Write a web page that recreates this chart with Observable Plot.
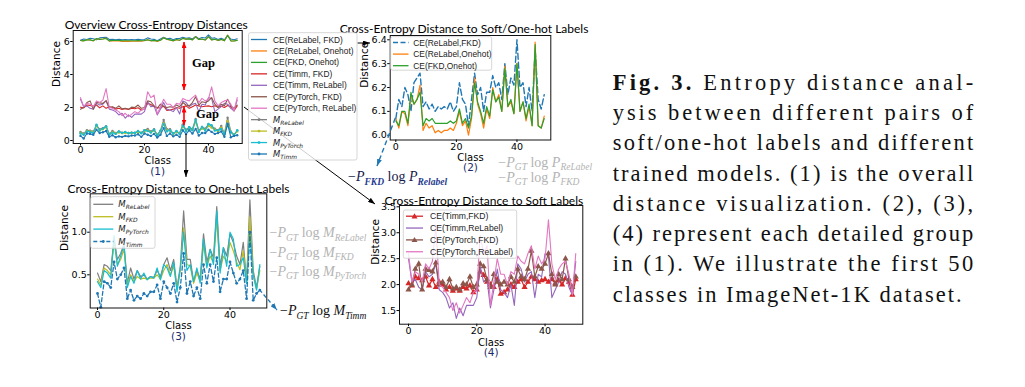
<!DOCTYPE html>
<html><head><meta charset="utf-8">
<script src="https://cdn.jsdelivr.net/npm/d3@7"></script>
<script src="https://cdn.jsdelivr.net/npm/@observablehq/plot@0.6"></script>
<style>
html,body{margin:0;padding:0;background:#fff;overflow:hidden;}
#wrap{position:relative;width:1025px;height:387px;overflow:hidden;}
#wrap svg{position:absolute;left:0;top:0;max-width:none;}
</style></head><body><div id="wrap"></div>
<script>
// ---------- data (first 50 ImageNet classes) ----------
const xTicks = [0, 20, 40];
// CE between soft / one-hot labels  (panel 2)
const ceReLabelFKD   = [6.07,6.15,6.12,6.20,6.17,6.10,6.22,6.24,6.26,6.12,6.14,6.11,6.13,6.10,6.12,6.11,6.12,6.11,6.14,6.10,6.12,6.22,6.15,6.13,6.04,6.15,6.26,6.17,6.20,6.10,6.18,6.18,6.25,6.20,6.22,6.15,6.30,6.17,6.24,6.21,6.40,6.20,6.22,6.12,6.20,6.10,6.36,6.15,6.11,6.17];
const ceReLabelOnehot= [6.07,6.03,6.10,6.09,6.04,6.17,6.13,6.15,6.21,6.02,6.05,6.03,6.04,6.01,6.02,6.01,6.02,6.02,6.03,6.02,6.05,6.10,6.04,6.06,6.00,6.07,6.24,6.13,6.09,6.03,6.11,6.07,6.20,6.14,6.17,6.10,6.29,6.12,6.14,6.09,6.30,6.10,6.14,6.06,6.12,6.04,6.39,6.04,6.03,6.08];
const ceFKDOnehot    = [6.06,6.04,6.10,6.10,6.05,6.18,6.13,6.15,6.18,6.04,6.07,6.06,6.07,6.05,6.05,6.05,6.05,6.05,6.06,6.05,6.06,6.11,6.05,6.07,6.03,6.08,6.22,6.14,6.10,6.05,6.12,6.08,6.19,6.14,6.16,6.10,6.28,6.12,6.15,6.09,6.30,6.10,6.14,6.07,6.13,6.04,6.38,6.04,6.03,6.07];
// CE of trained models to soft labels (panel 4)
const ceTimmFKD      = [2.02,1.98,2.15,2.12,2.08,2.15,1.98,2.10,1.95,2.05,2.00,1.90,1.95,1.88,1.92,1.88,1.95,1.92,1.98,1.85,1.90,2.25,2.18,2.05,2.00,1.95,2.10,1.82,1.85,1.90,2.00,1.95,2.05,2.10,1.95,2.05,2.15,2.10,2.05,2.08,2.10,2.05,2.10,2.02,2.08,2.00,2.12,2.05,1.80,2.10];
const ceTimmReLabel  = [2.50,2.05,2.10,1.95,1.90,2.25,2.15,2.20,2.40,1.90,1.85,1.75,1.55,1.65,1.35,1.55,1.40,1.60,1.60,1.60,1.75,2.35,2.05,2.10,1.55,1.90,2.30,1.90,1.85,1.75,2.00,1.60,2.40,2.30,2.05,2.20,2.25,1.75,2.20,2.15,2.60,2.55,1.75,1.90,2.05,2.25,2.20,1.95,1.80,2.45];
const cePyTorchFKD   = [1.90,2.00,2.30,2.40,1.90,2.30,2.28,2.25,2.42,2.00,2.05,1.95,2.10,1.92,1.95,1.90,2.02,2.00,2.15,1.95,2.00,2.40,2.35,2.10,1.95,2.20,2.05,2.00,2.05,2.00,2.15,2.05,2.30,2.15,2.10,2.30,2.65,2.15,2.35,2.30,2.40,2.60,2.20,2.00,2.20,2.10,2.50,2.10,1.95,2.15];
const cePyTorchReLabel=[2.60,2.05,2.25,2.20,2.05,2.40,2.30,2.45,3.15,2.00,1.95,1.85,1.75,1.50,1.65,1.45,1.60,1.75,1.65,1.85,1.90,2.95,2.60,2.75,1.60,2.05,2.50,2.20,2.20,2.00,2.25,2.20,2.55,2.45,2.40,2.60,2.75,2.30,2.55,2.40,2.50,3.25,2.40,2.10,2.30,2.40,2.45,2.20,1.80,2.60];
// CE of trained models to one-hot labels (panel 3)
const mReLabel = [0.52,0.42,0.62,0.60,0.55,0.92,0.68,0.75,0.86,0.40,0.58,0.45,0.55,0.48,0.50,0.45,0.48,0.47,0.55,0.48,0.62,0.70,0.55,0.68,0.35,0.60,1.25,0.68,0.68,0.42,0.55,0.45,0.98,0.65,0.80,0.70,1.30,0.60,0.82,0.72,0.98,0.88,0.72,0.62,0.88,0.42,1.38,0.55,0.35,0.60];
const mFKD     = [0.45,0.38,0.58,0.55,0.50,0.88,0.62,0.68,0.80,0.38,0.50,0.42,0.48,0.45,0.46,0.45,0.46,0.46,0.50,0.45,0.55,0.62,0.50,0.60,0.33,0.55,1.05,0.62,0.60,0.40,0.52,0.42,0.85,0.60,0.72,0.64,1.15,0.55,0.72,0.65,0.88,0.78,0.65,0.56,0.78,0.40,1.18,0.50,0.33,0.55];
const mPyTorch = [0.42,0.35,0.55,0.52,0.46,0.96,0.60,0.72,0.85,0.35,0.48,0.40,0.55,0.45,0.52,0.44,0.48,0.46,0.58,0.44,0.62,0.58,0.48,0.65,0.30,0.58,1.00,0.55,0.62,0.42,0.58,0.40,0.92,0.58,0.80,0.62,1.25,0.52,0.82,0.60,1.00,0.92,0.60,0.62,0.70,0.40,1.00,0.50,0.32,0.62];
const mTimm    = [0.28,0.12,0.42,0.40,0.35,0.65,0.45,0.50,0.58,0.22,0.32,0.20,0.25,0.22,0.28,0.25,0.30,0.30,0.38,0.22,0.42,0.35,0.28,0.40,0.18,0.35,0.75,0.28,0.42,0.25,0.35,0.22,0.62,0.40,0.62,0.42,0.70,0.30,0.45,0.45,0.65,0.52,0.40,0.45,0.55,0.22,1.00,0.20,0.28,0.32];

const C = {blue:"#1f77b4",orange:"#ff7f0e",green:"#2ca02c",red:"#d62728",purple:"#9467bd",brown:"#8c564b",pink:"#e377c2",grey:"#7f7f7f",olive:"#bcbd22",cyan:"#17becf"};

const W = 1025, H = 387;
const wrap = document.getElementById("wrap");

function panel(o) {
  const b = o.box;
  const plot = Plot.plot({
    width: W, height: H,
    marginLeft: b.l, marginRight: W - b.r, marginTop: b.t, marginBottom: H - b.b,
    x: {domain: o.xDomain},
    y: {domain: o.yDomain},
    style: {background: "none", overflow: "visible", fontFamily: "DejaVu Sans", fontSize: "9.5px", color: "#000"},
    marks: [
      Plot.axisX({ticks: xTicks, tickSize: 2.5, tickPadding: 0.5, label: null, fontSize: 9.5}),
      Plot.axisY({ticks: o.yTicks, tickFormat: o.yFormat, tickSize: 2.5, tickPadding: 1, label: null, fontSize: 9.5}),
      ...o.marks,
      Plot.frame({stroke: "#111", strokeWidth: 1}),
      Plot.text([o.title], {frameAnchor: "top", lineAnchor: "bottom", dx: o.titleDx, dy: o.titleDy, fontFamily: "Lato", fontSize: 12, fill: "#000"}),
      Plot.text(["Distance"], {frameAnchor: "left", dx: o.ylabDx, rotate: -90, fontSize: 10.5, fill: "#000"}),
      Plot.text(["Class"], {frameAnchor: "bottom", dy: o.classDy, fontSize: 10, fill: "#000"}),
      Plot.text([o.num], {frameAnchor: "bottom", dy: o.classDy + 10.5, fontSize: 10.5, fill: "#1c2b6b"})
    ]
  });
  wrap.appendChild(plot);
  return plot;
}
const line = (v, opt) => Plot.line(v, {x: (d, i) => i, y: d => d, ...opt});
const dots = (v, opt) => Plot.dot(v, {x: (d, i) => i, y: d => d, ...opt});

// ---------- panel (1): overview ----------
const p1 = panel({
  box: {l: 72.7, r: 241.7, t: 30, b: 143},
  xDomain: [-2.28, 50.56], yDomain: [-0.182, 6.667],
  yTicks: [0, 2, 4, 6], yFormat: d => String(d),
  title: "Overview Cross-Entropy Distances", titleDx: -1.5, titleDy: -2,
  ylabDx: -16.5, classDy: 20.5, num: "(1)",
  marks: [
    line(ceReLabelFKD, {stroke: C.blue, strokeWidth: 1.1}),
    line(ceReLabelOnehot, {stroke: C.orange, strokeWidth: 1.1}),
    line(ceFKDOnehot, {stroke: C.green, strokeWidth: 1.1}),
    line(ceTimmFKD, {stroke: C.red, strokeWidth: 1.1}),
    line(ceTimmReLabel, {stroke: C.purple, strokeWidth: 1.1}),
    line(cePyTorchFKD, {stroke: C.brown, strokeWidth: 1.1}),
    line(cePyTorchReLabel, {stroke: C.pink, strokeWidth: 1.1}),
    line(mReLabel, {stroke: C.grey, strokeWidth: 1.1}), dots(mReLabel, {fill: C.grey, r: 1.2}),
    line(mFKD, {stroke: C.olive, strokeWidth: 1.1}), dots(mFKD, {fill: C.olive, r: 1.2}),
    line(mPyTorch, {stroke: C.cyan, strokeWidth: 1.1}), dots(mPyTorch, {fill: C.cyan, r: 1.2}),
    line(mTimm, {stroke: C.blue, strokeWidth: 1.1}), dots(mTimm, {fill: C.blue, r: 1.2})
  ]
});

// ---------- panel (2) ----------
const p2 = panel({
  box: {l: 389.7, r: 550.3, t: 35, b: 139.5},
  xDomain: [-1.85, 51.17], yDomain: [5.980, 6.418],
  yTicks: [6.0, 6.1, 6.2, 6.3, 6.4], yFormat: d3.format(".1f"),
  title: "Cross-Entropy Distance to Soft/One-hot Labels", titleDx: -6.5, titleDy: -3,
  ylabDx: -26, classDy: 20.5, num: "(2)",
  marks: [
    line(ceReLabelFKD, {stroke: C.blue, strokeWidth: 1.4, strokeDasharray: "6,3"}),
    line(ceReLabelOnehot, {stroke: C.orange, strokeWidth: 1.2}),
    line(ceFKDOnehot, {stroke: C.green, strokeWidth: 1.2})
  ]
});

// ---------- panel (3) ----------
const p3 = panel({
  box: {l: 89.7, r: 266.3, t: 193.3, b: 307.5},
  xDomain: [-2.2, 51.1], yDomain: [0.110, 1.451],
  yTicks: [0.5, 1.0], yFormat: d3.format(".1f"),
  title: "Cross-Entropy Distance to One-hot Labels", titleDx: 0, titleDy: -1,
  ylabDx: -26, classDy: 21, num: "(3)",
  marks: [
    line(mReLabel, {stroke: C.grey, strokeWidth: 1.2}),
    line(mFKD, {stroke: C.olive, strokeWidth: 1.2}),
    line(mPyTorch, {stroke: C.cyan, strokeWidth: 1.2}),
    line(mTimm, {stroke: C.blue, strokeWidth: 1.3, strokeDasharray: "4,2.5"}),
    dots(mTimm, {fill: C.blue, r: 1.4})
  ]
});

// ---------- panel (4) ----------
const p4 = panel({
  box: {l: 399, r: 582.3, t: 205, b: 323.7},
  xDomain: [-2.64, 51.06], yDomain: [1.237, 3.525],
  yTicks: [1.5, 2.0, 2.5, 3.0, 3.5], yFormat: d3.format(".1f"),
  title: "Cross-Entropy Distance to Soft Labels", titleDx: -7.3, titleDy: -1,
  ylabDx: -24, classDy: 21.5, num: "(4)",
  marks: [
    line(ceTimmFKD, {stroke: C.red, strokeWidth: 1.2}), dots(ceTimmFKD, {fill: C.red, symbol: "triangle", r: 2.3}),
    line(ceTimmReLabel, {stroke: C.purple, strokeWidth: 1.1}),
    line(cePyTorchFKD, {stroke: C.brown, strokeWidth: 1.2}), dots(cePyTorchFKD, {fill: C.brown, symbol: "triangle", r: 2.3}),
    line(cePyTorchReLabel, {stroke: C.pink, strokeWidth: 1.1})
  ]
});

// ---------- overlay: connectors, legends, annotations, caption ----------
const svg = d3.select(wrap).append("svg").attr("width", W).attr("height", H)
  .style("font-family", "DejaVu Sans");
const defs = svg.append("defs");
function marker(id, color, w, h) {
  defs.append("marker").attr("id", id).attr("viewBox", `0 0 ${w} ${h}`)
    .attr("refX", w).attr("refY", h / 2).attr("markerWidth", w).attr("markerHeight", h)
    .attr("markerUnits", "userSpaceOnUse").attr("orient", "auto-start-reverse")
    .append("path").attr("d", `M0,0L${w},${h / 2}L0,${h}Z`).attr("fill", color);
}
marker("ak", "#000", 7, 5);
marker("ab", C.blue, 7, 5);
marker("ar", "#ff0000", 6, 5);

const seg = (x1, y1, x2, y2, color, w, dash, mk, mk0) => {
  const l = svg.append("line").attr("x1", x1).attr("y1", y1).attr("x2", x2).attr("y2", y2)
    .attr("stroke", color).attr("stroke-width", w);
  if (dash) l.attr("stroke-dasharray", dash);
  if (mk) l.attr("marker-end", `url(#${mk})`);
  if (mk0) l.attr("marker-start", `url(#${mk0})`);
};
// connectors
seg(357.5, 43, 370, 43, "#000", 1, null, "ak");
seg(186, 134, 186, 177, "#000", 1, null, "ak");
seg(244, 107, 375, 204, "#000", 1, null, "ak");
// dashed arrows continuing series to their formula labels
seg(p2.scale("x").apply(0), p2.scale("y").apply(ceReLabelFKD[0]), 377, 166, C.blue, 1.4, "5,3", "ab");
seg(p3.scale("x").apply(49), p3.scale("y").apply(mTimm[49]), 277, 310, C.blue, 1.3, "4,2.5", "ab");
// gap arrows
seg(184, 42, 184, 90, "#ff0000", 1.6, null, "ar", "ar");
seg(184, 106.5, 184, 125.5, "#ff0000", 1.6, null, "ar", "ar");
svg.append("text").attr("x", 192).attr("y", 66.5).attr("font-family", "Liberation Serif").attr("font-weight", "bold").attr("font-size", 12.5).text("Gap");
svg.append("text").attr("x", 196).attr("y", 118).attr("font-family", "Liberation Serif").attr("font-weight", "bold").attr("font-size", 12.5).text("Gap");

// legends
function legend(cfg) {
  const g = svg.append("g");
  g.append("rect").attr("x", cfg.x).attr("y", cfg.y).attr("width", cfg.w).attr("height", cfg.h)
    .attr("rx", 2).attr("fill", "#fff").attr("fill-opacity", 0.8).attr("stroke", "#cccccc").attr("stroke-width", 0.8);
  cfg.items.forEach((it, k) => {
    const y = cfg.y0 + k * cfg.dy;
    const l = g.append("line").attr("x1", cfg.s0).attr("x2", cfg.s1).attr("y1", y).attr("y2", y)
      .attr("stroke", it.color).attr("stroke-width", it.w || 1.3);
    if (it.dash) l.attr("stroke-dasharray", it.dash);
    const cx = (cfg.s0 + cfg.s1) / 2;
    if (it.mk === "dot") g.append("circle").attr("cx", cx).attr("cy", y).attr("r", 1.4).attr("fill", it.color);
    if (it.mk === "tri") g.append("path").attr("d", `M${cx},${y - 3}L${cx + 3},${y + 2.2}L${cx - 3},${y + 2.2}Z`).attr("fill", it.color);
    const t = g.append("text").attr("x", cfg.tx).attr("y", y + cfg.fs * 0.36).attr("fill", "#222");
    if (typeof it.label === "string") {
      t.attr("font-family", "Liberation Sans").attr("font-size", cfg.fs).text(it.label);
    } else {
      t.attr("font-family", "DejaVu Sans").attr("font-style", "italic");
      t.append("tspan").attr("font-size", cfg.fs).text(it.label[0]);
      t.append("tspan").attr("font-size", cfg.fs * 0.7).attr("dy", 2).text(it.label[1]);
    }
  });
}
legend({x: 248.5, y: 32.7, w: 108.5, h: 127.3, y0: 39.5, dy: 11.45, s0: 251, s1: 267, tx: 273, fs: 8.4, items: [
  {label: "CE(ReLabel, FKD)", color: C.blue},
  {label: "CE(ReLabel, Onehot)", color: C.orange},
  {label: "CE(FKD, Onehot)", color: C.green},
  {label: "CE(Timm, FKD)", color: C.red},
  {label: "CE(Timm, ReLabel)", color: C.purple},
  {label: "CE(PyTorch, FKD)", color: C.brown},
  {label: "CE(PyTorch, ReLabel)", color: C.pink},
  {label: ["M", "ReLabel"], color: C.grey, mk: "dot"},
  {label: ["M", "FKD"], color: C.olive, mk: "dot"},
  {label: ["M", "PyTorch"], color: C.cyan, mk: "dot"},
  {label: ["M", "Timm"], color: C.blue, mk: "dot"}
]});
legend({x: 390.7, y: 36.7, w: 101, h: 33.5, y0: 42.5, dy: 11.6, s0: 393, s1: 408.5, tx: 413.3, fs: 8.4, items: [
  {label: "CE(ReLabel,FKD)", color: C.blue, dash: "5,2.5", w: 1.4},
  {label: "CE(ReLabel,Onehot)", color: C.orange},
  {label: "CE(FKD,Onehot)", color: C.green}
]});
legend({x: 90.7, y: 196.7, w: 64.3, h: 51.6, y0: 204.3, dy: 12.4, s0: 93.3, s1: 113.3, tx: 118.3, fs: 8.5, items: [
  {label: ["M", "ReLabel"], color: C.grey},
  {label: ["M", "FKD"], color: C.olive},
  {label: ["M", "PyTorch"], color: C.cyan},
  {label: ["M", "Timm"], color: C.blue, dash: "4,2.5", mk: "dot"}
]});
legend({x: 403.3, y: 210, w: 113.4, h: 48.3, y0: 216.2, dy: 11.85, s0: 406, s1: 423, tx: 430, fs: 8.6, items: [
  {label: "CE(Timm,FKD)", color: C.red, mk: "tri"},
  {label: "CE(Timm,ReLabel)", color: C.purple},
  {label: "CE(PyTorch,FKD)", color: C.brown, mk: "tri"},
  {label: "CE(PyTorch,ReLabel)", color: C.pink}
]});

// formula annotations:  parts = [text, kind]  kind: n upright, i italic, s italic subscript, sb bold italic subscript
function formula(x, y, parts, color, subColor, fs) {
  const t = svg.append("text").attr("x", x).attr("y", y).attr("font-family", "Liberation Serif").attr("font-size", fs).attr("fill", color);
  let shift = 0;
  parts.forEach(([s, k]) => {
    const sp = t.append("tspan").text(s);
    const want = (k === "s" || k === "sb") ? 3.5 : 0;
    if (want !== shift) { sp.attr("dy", want - shift); shift = want; }
    if (k !== "n") sp.attr("font-style", "italic");
    if (k === "s" || k === "sb") { sp.attr("font-size", fs * 0.68); if (subColor) sp.attr("fill", subColor); }
    if (k === "sb") sp.attr("font-weight", "bold");
  });
}
const LG = "#b3b3b3";
formula(348, 181, [["\u2212", "n"], ["P", "i"], ["FKD", "sb"], [" log ", "n"], ["P", "i"], ["Relabel", "sb"]], "#151a4a", "#1f3a8f", 14);
formula(498.3, 166.7, [["\u2212", "n"], ["P", "i"], ["GT", "s"], [" log ", "n"], ["P", "i"], ["ReLabel", "s"]], LG, null, 14);
formula(498.3, 181.7, [["\u2212", "n"], ["P", "i"], ["GT", "s"], [" log ", "n"], ["P", "i"], ["FKD", "s"]], LG, null, 14);
formula(269.5, 237.3, [["\u2212", "n"], ["P", "i"], ["GT", "s"], [" log ", "n"], ["M", "i"], ["ReLabel", "s"]], LG, null, 14);
formula(269.5, 256.7, [["\u2212", "n"], ["P", "i"], ["GT", "s"], [" log ", "n"], ["M", "i"], ["FKD", "s"]], LG, null, 14);
formula(269.5, 275.5, [["\u2212", "n"], ["P", "i"], ["GT", "s"], [" log ", "n"], ["M", "i"], ["PyTorch", "s"]], LG, null, 14);
formula(280, 315, [["\u2212", "n"], ["P", "i"], ["GT", "s"], [" log ", "n"], ["M", "i"], ["Timm", "s"]], "#111", null, 14);

// caption
const captionLines = [
  "Entropy distance anal-",
  "ysis between different pairs of",
  "soft/one-hot labels and different",
  "trained models. (1) is the overall",
  "distance visualization. (2), (3),",
  "(4) represent each detailed group",
  "in (1). We illustrate the first 50",
  "classes in ImageNet-1K dataset."
];
captionLines.forEach((s, k) => {
  const t = svg.append("text").attr("x", 612.7).attr("y", 90 + k * 30.24)
    .attr("font-family", "Liberation Serif").attr("font-size", 22.5).attr("fill", "#111")
    .attr("textLength", k === 7 ? 349 : 360.5).attr("lengthAdjust", "spacing");
  if (k === 0) {
    t.append("tspan").attr("font-weight", "bold").text("Fig. 3. ");
    t.append("tspan").text(s);
  } else t.text(s);
});
</script></body></html>
